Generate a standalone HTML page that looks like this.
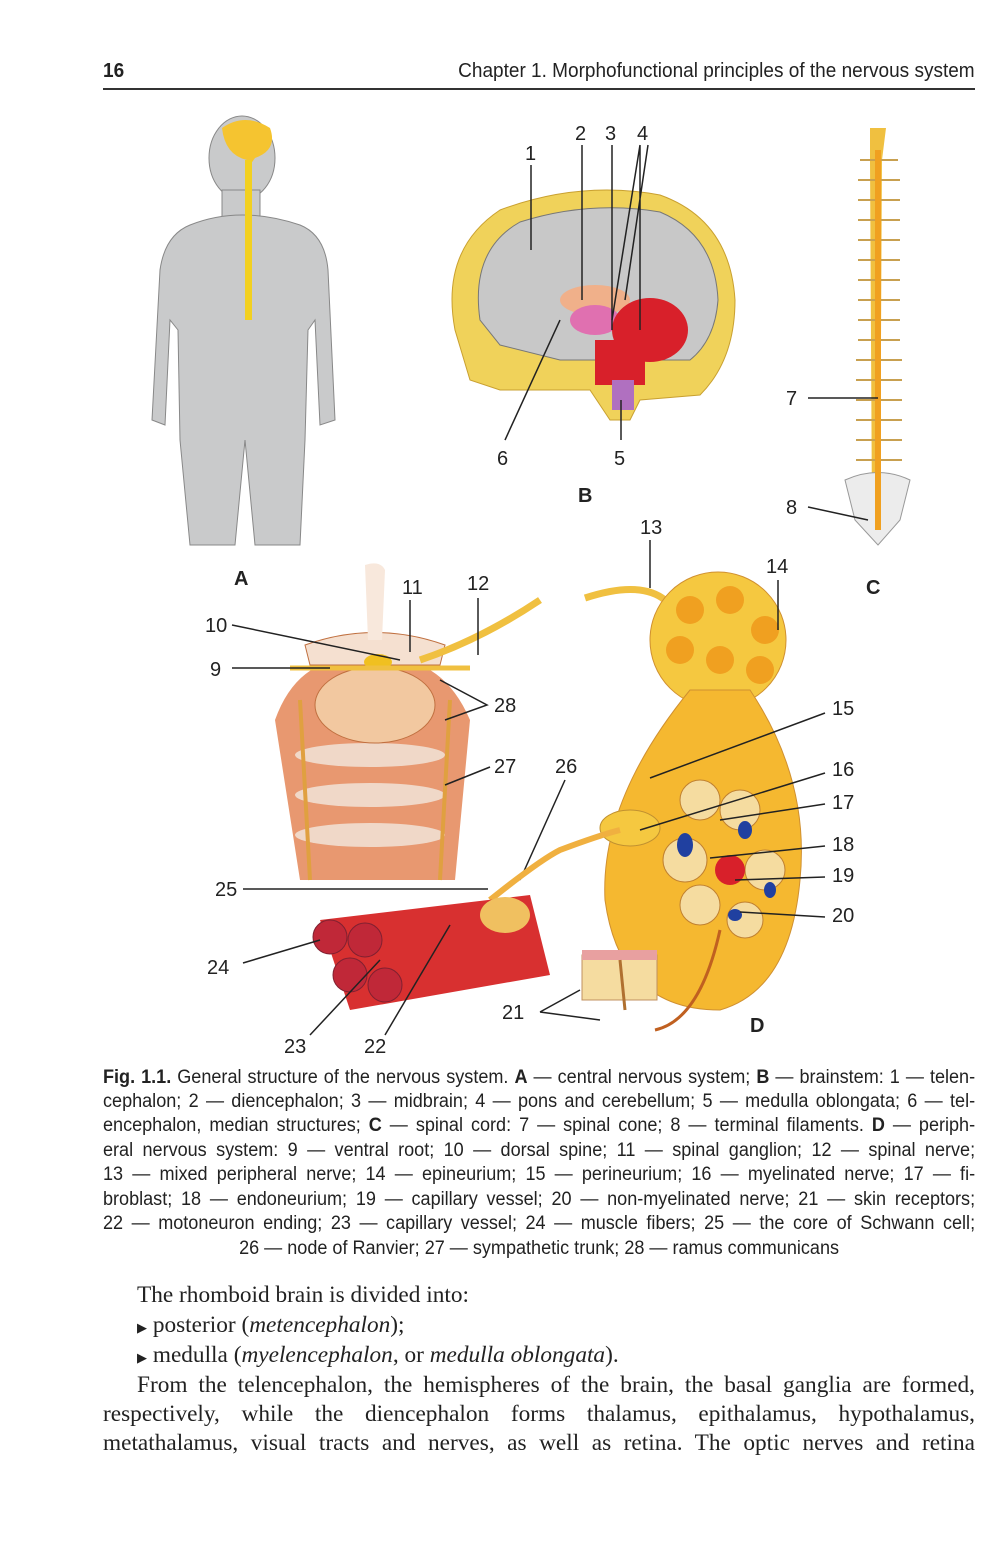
<!DOCTYPE html>
<html><head><meta charset="utf-8"><style>
body{margin:0;background:#fff;}
#p{position:relative;width:1000px;height:1562px;overflow:hidden;background:#fff;}
.cap{position:absolute;left:103px;width:918px;transform:scaleX(0.95);transform-origin:0 0;font-family:"Liberation Sans",sans-serif;font-size:19px;line-height:24px;color:#222;text-align:justify;text-align-last:justify;white-space:nowrap;}
.cap.c{text-align:center;text-align-last:center;}
.bt{position:absolute;left:103px;width:872px;font-family:"Liberation Serif",serif;font-size:23.3px;color:#222;text-align:justify;text-align-last:justify;white-space:nowrap;}
.bt.l{text-align-last:left;}
</style></head><body><div id="p">
<div style="position:absolute;left:103px;top:60px;font:bold 20px 'Liberation Sans',sans-serif;color:#222;transform:scaleX(0.95);transform-origin:0 0">16</div>
<div style="position:absolute;right:25px;top:60px;font:20px 'Liberation Sans',sans-serif;color:#222;transform:scaleX(0.95);transform-origin:100% 0;white-space:nowrap">Chapter 1. Morphofunctional principles of the nervous system</div>
<div style="position:absolute;left:103px;top:88px;width:872px;height:1.5px;background:#333"></div>
<svg width="1000" height="1070" style="position:absolute;left:0;top:0" font-family="Liberation Sans,sans-serif" font-size="20" fill="#222">
<g fill="#c9cacb" stroke="#888" stroke-width="1">
<ellipse cx="242" cy="158" rx="33" ry="42"/>
<rect x="222" y="190" width="38" height="30"/>
<path d="M190 225 Q240 205 300 225 Q325 235 328 270 L335 420 L320 425 L315 320 L308 330 L305 440 L300 545 L255 545 L245 440 L235 545 L190 545 L180 440 L178 330 L170 320 L165 425 L152 420 L160 270 Q165 235 190 225Z"/>
</g>
<path d="M222 128 Q245 112 270 128 Q278 150 255 158 L250 165 L247 160 Q225 155 222 128Z" fill="#f5c430"/>
<rect x="245" y="160" width="7" height="160" fill="#f2d020"/>
<text x="234" y="585" font-weight="bold">A</text>
<path d="M455 330 Q440 250 500 210 Q580 180 660 195 Q730 220 735 300 Q735 360 700 395 L640 400 L630 420 L610 420 L590 390 L500 390 L470 380Z" fill="#f0d25a" stroke="#c9a030"/>
<path d="M480 320 Q470 250 520 222 Q590 200 660 212 Q715 235 718 300 Q715 340 690 360 L560 360 L500 345Z" fill="#c8c8c8" stroke="#777"/>
<ellipse cx="595" cy="300" rx="35" ry="15" fill="#f0b08a"/>
<ellipse cx="595" cy="320" rx="25" ry="15" fill="#e070b0"/>
<ellipse cx="650" cy="330" rx="38" ry="32" fill="#d8202a"/>
<rect x="595" y="340" width="50" height="45" fill="#d8202a"/>
<rect x="612" y="380" width="22" height="30" fill="#b070c0"/>
<g stroke="#222" stroke-width="1.5" fill="none">
<path d="M531 165 L531 250"/><path d="M582 145 L582 300"/><path d="M612 145 L612 330"/>
<path d="M640 145 L612 320 M640 145 L640 330 M648 145 L625 300"/>
<path d="M560 320 L505 440"/><path d="M621 400 L621 440"/>
</g>
<text x="525" y="160">1</text><text x="575" y="140">2</text><text x="605" y="140">3</text><text x="637" y="140">4</text>
<text x="497" y="465">6</text><text x="614" y="465">5</text>
<text x="578" y="502" font-weight="bold">B</text>
<path d="M870 128 L886 128 L882 160 L880 520 L876 540 L872 520 L870 160Z" fill="#f0c040"/>
<g stroke="#c8a050" stroke-width="2">
<path d="M860 160 H898 M858 180 H900 M858 200 H900 M858 220 H900 M858 240 H900 M858 260 H900 M858 280 H900 M858 300 H900 M858 320 H900 M858 340 H900 M856 360 H902 M856 380 H902 M856 400 H902 M856 420 H902 M856 440 H902 M856 460 H902"/>
</g>
<path d="M845 480 Q878 465 910 480 L900 520 L878 545 L855 520Z" fill="#ececec" stroke="#999"/>
<rect x="875" y="150" width="6" height="380" fill="#f0a020"/>
<g stroke="#222" stroke-width="1.5"><path d="M808 398 L878 398"/><path d="M808 507 L868 520"/></g>
<text x="786" y="405">7</text><text x="786" y="514">8</text>
<text x="866" y="594" font-weight="bold">C</text>
<path d="M275 720 Q300 650 370 660 Q440 650 470 720 L455 880 L300 880Z" fill="#e89870"/>
<g fill="#f0d8c8"><ellipse cx="370" cy="755" rx="75" ry="12"/><ellipse cx="370" cy="795" rx="75" ry="12"/><ellipse cx="370" cy="835" rx="75" ry="12"/></g>
<ellipse cx="375" cy="705" rx="60" ry="38" fill="#f2c8a0" stroke="#c07040"/>
<path d="M305 645 Q375 620 445 645 L440 665 L310 665Z" fill="#f5e0d0" stroke="#c07040"/>
<path d="M365 565 Q380 560 385 570 L382 640 L368 640Z" fill="#f8e8dc"/>
<ellipse cx="378" cy="662" rx="14" ry="8" fill="#f0c020"/>
<path d="M420 660 Q480 640 540 600" stroke="#f0c040" stroke-width="7" fill="none"/>
<path d="M290 668 H470" stroke="#f0c040" stroke-width="5"/>
<path d="M300 700 L310 880 M450 700 L440 880" stroke="#e0a040" stroke-width="4"/>
<g stroke="#222" stroke-width="1.5" fill="none">
<path d="M232 625 L400 660"/><path d="M232 668 L330 668"/><path d="M410 600 L410 652"/>
<path d="M478 598 L478 655"/><path d="M440 680 L487 705 L445 720"/><path d="M490 767 L445 785"/>
<path d="M243 889 L488 889"/><path d="M565 780 L520 880"/>
</g>
<text x="205" y="632">10</text><text x="210" y="676">9</text><text x="402" y="594">11</text><text x="467" y="590">12</text>
<text x="494" y="712">28</text><text x="494" y="773">27</text><text x="555" y="773">26</text><text x="215" y="896">25</text>
<path d="M585 598 Q640 580 665 600" stroke="#f0c040" stroke-width="7" fill="none"/>
<circle cx="718" cy="640" r="68" fill="#f5c840" stroke="#d09030"/>
<g fill="#f0a020"><circle cx="690" cy="610" r="14"/><circle cx="730" cy="600" r="14"/><circle cx="765" cy="630" r="14"/><circle cx="680" cy="650" r="14"/><circle cx="720" cy="660" r="14"/><circle cx="760" cy="670" r="14"/></g>
<path d="M690 690 L750 690 Q810 780 800 880 Q790 990 720 1010 Q620 1010 605 900 Q600 800 690 690Z" fill="#f5b830" stroke="#d09030"/>
<g fill="#f5dca0" stroke="#c08030"><circle cx="700" cy="800" r="20"/><circle cx="740" cy="810" r="20"/><circle cx="685" cy="860" r="22"/><circle cx="765" cy="870" r="20"/><circle cx="700" cy="905" r="20"/><circle cx="745" cy="920" r="18"/></g>
<circle cx="730" cy="870" r="15" fill="#d8202a"/>
<g fill="#2040a0"><ellipse cx="685" cy="845" rx="8" ry="12"/><ellipse cx="745" cy="830" rx="7" ry="9"/><ellipse cx="770" cy="890" rx="6" ry="8"/><ellipse cx="735" cy="915" rx="7" ry="6"/></g>
<ellipse cx="630" cy="828" rx="30" ry="18" fill="#f5c840" stroke="#c09030"/>
<path d="M490 900 Q540 860 560 850 Q600 835 620 830" stroke="#f0b040" stroke-width="6" fill="none"/>
<path d="M720 930 Q700 1020 655 1030" stroke="#c06020" stroke-width="3" fill="none"/>
<g stroke="#222" stroke-width="1.5" fill="none">
<path d="M650 540 L650 588"/><path d="M778 580 L778 630"/><path d="M825 713 L650 778"/>
<path d="M825 773 L640 830"/><path d="M825 804 L720 820"/><path d="M825 846 L710 858"/>
<path d="M825 877 L735 880"/><path d="M825 917 L740 912"/>
</g>
<text x="640" y="534">13</text><text x="766" y="573">14</text><text x="832" y="715">15</text><text x="832" y="776">16</text>
<text x="832" y="809">17</text><text x="832" y="851">18</text><text x="832" y="882">19</text><text x="832" y="922">20</text>
<text x="750" y="1032" font-weight="bold">D</text>
<path d="M320 920 L530 895 L550 975 L350 1010Z" fill="#d83030"/>
<g fill="#c02838" stroke="#802030"><circle cx="330" cy="937" r="17"/><circle cx="365" cy="940" r="17"/><circle cx="350" cy="975" r="17"/><circle cx="385" cy="985" r="17"/></g>
<ellipse cx="505" cy="915" rx="25" ry="18" fill="#f0c060"/>
<g stroke="#222" stroke-width="1.5" fill="none">
<path d="M243 963 L320 940"/><path d="M310 1035 L380 960"/><path d="M385 1035 L450 925"/>
</g>
<text x="207" y="974">24</text><text x="284" y="1053">23</text><text x="364" y="1053">22</text>
<rect x="582" y="955" width="75" height="45" fill="#f5dca0" stroke="#c09060"/>
<rect x="582" y="950" width="75" height="10" fill="#e8a0a0"/>
<path d="M620 960 L625 1010" stroke="#b07030" stroke-width="3"/>
<path d="M540 1012 L580 990 M540 1012 L600 1020" stroke="#222" stroke-width="1.5"/>
<text x="502" y="1019">21</text>
</svg>
<div class="cap" style="top:1066px"><b>Fig. 1.1.</b> General structure of the nervous system. <b>A</b> — central nervous system; <b>B</b> — brainstem: 1 — telen-</div>
<div class="cap" style="top:1090px">cephalon; 2 — diencephalon; 3 — midbrain; 4 — pons and cerebellum; 5 — medulla oblongata; 6 — tel-</div>
<div class="cap" style="top:1114px">encephalon, median structures; <b>C</b> — spinal cord: 7 — spinal cone; 8 — terminal filaments. <b>D</b> — periph-</div>
<div class="cap" style="top:1139px">eral nervous system: 9 — ventral root; 10 — dorsal spine; 11 — spinal ganglion; 12 — spinal nerve;</div>
<div class="cap" style="top:1163px">13 — mixed peripheral nerve; 14 — epineurium; 15 — perineurium; 16 — myelinated nerve; 17 — fi-</div>
<div class="cap" style="top:1188px">broblast; 18 — endoneurium; 19 — capillary vessel; 20 — non-myelinated nerve; 21 — skin receptors;</div>
<div class="cap" style="top:1212px">22 — motoneuron ending; 23 — capillary vessel; 24 — muscle fibers; 25 — the core of Schwann cell;</div>
<div class="cap c" style="top:1237px">26 — node of Ranvier; 27 — sympathetic trunk; 28 — ramus communicans</div>
<div class="bt l" style="top:1282px;left:137px">The rhomboid brain is divided into:</div>
<div class="bt l" style="top:1312px;left:137px"><span style="font-size:13px">▶</span> posterior (<i>metencephalon</i>);</div>
<div class="bt l" style="top:1342px;left:137px"><span style="font-size:13px">▶</span> medulla (<i>myelencephalon</i>, or <i>medulla oblongata</i>).</div>
<div class="bt" style="top:1372px;left:137px;width:838px">From the telencephalon, the hemispheres of the brain, the basal ganglia are formed,</div>
<div class="bt" style="top:1401px">respectively, while the diencephalon forms thalamus, epithalamus, hypothalamus,</div>
<div class="bt" style="top:1430px">metathalamus, visual tracts and nerves, as well as retina. The optic nerves and retina</div>
</div></body></html>
